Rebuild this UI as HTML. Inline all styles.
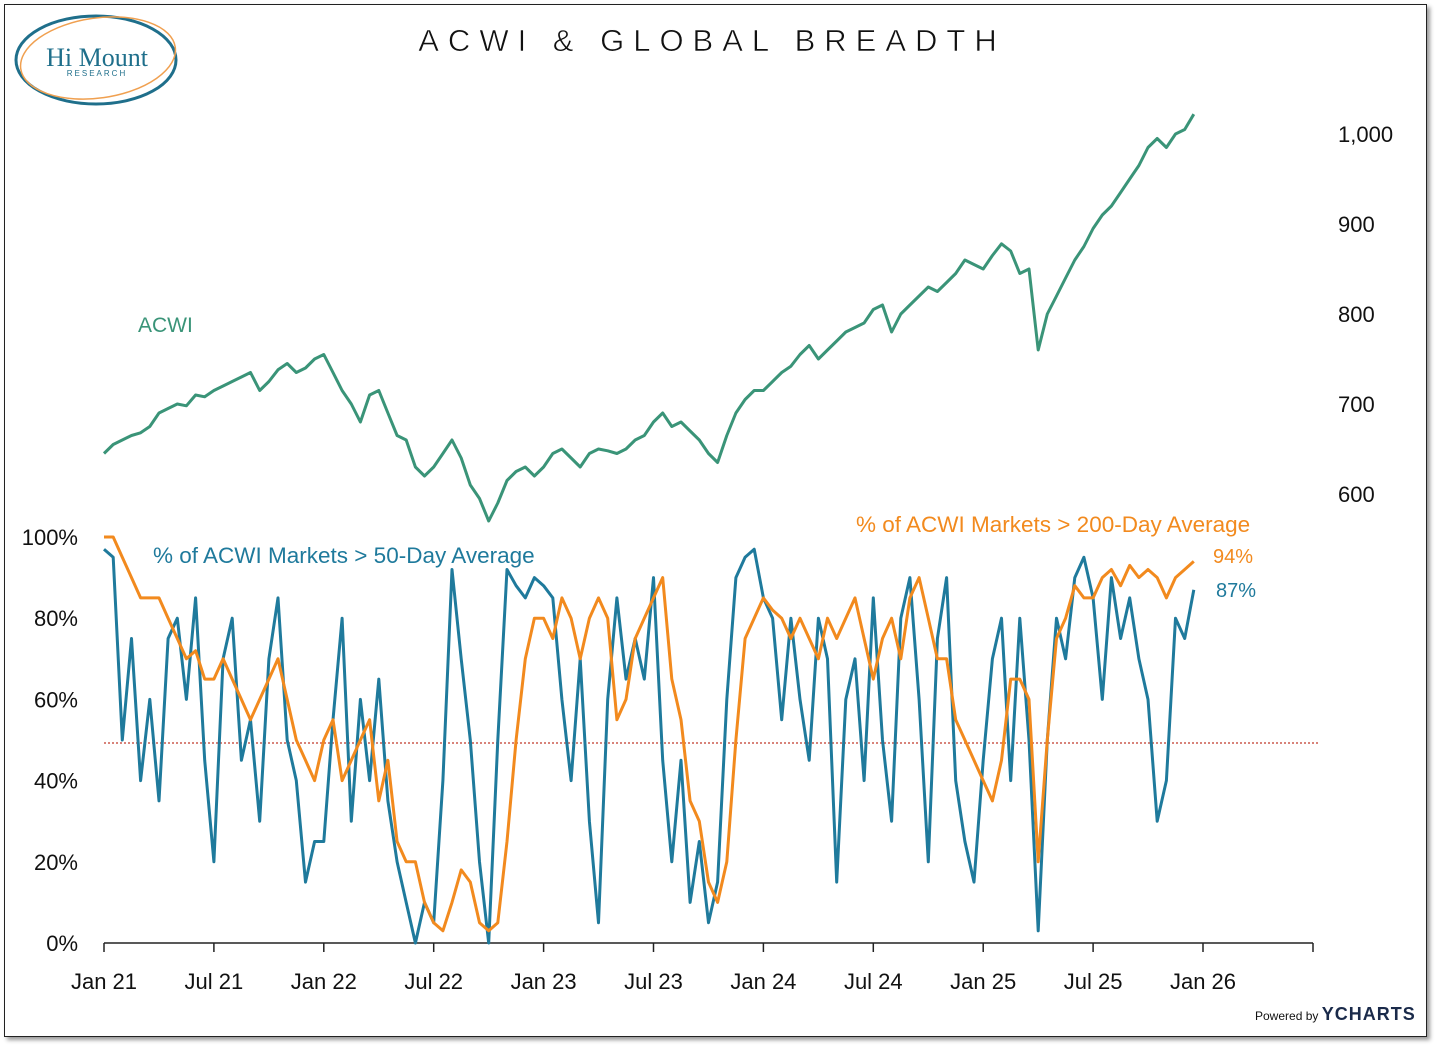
<!DOCTYPE html>
<html><head><meta charset="utf-8"><style>
body{margin:0;background:#fff;width:1439px;height:1050px;overflow:hidden;font-family:"Liberation Sans",sans-serif}
#frame{position:absolute;left:4px;top:4px;width:1421px;height:1031px;border:1.5px solid #222;box-shadow:3px 3px 4px #999;background:#fff}
</style></head><body>
<div id="frame"></div>
<svg id="chart" width="1439" height="1050" style="position:absolute;left:0;top:0">
<g>
<ellipse cx="96" cy="60" rx="80" ry="44" fill="none" stroke="#1f6f8b" stroke-width="3"/>
<ellipse cx="98" cy="58" rx="78" ry="40" fill="none" stroke="#f0a050" stroke-width="1.5" transform="rotate(-8 98 58)"/>
<text x="97" y="66" text-anchor="middle" font-family="Liberation Serif" font-size="26" fill="#1f6f8b">Hi Mount</text>
<text x="97" y="76" text-anchor="middle" font-size="8" letter-spacing="2" fill="#1f6f8b">RESEARCH</text>
</g>
<text x="712" y="51" text-anchor="middle" font-size="31" letter-spacing="9" fill="#111" stroke="#fff" stroke-width="0.6">ACWI &amp; GLOBAL BREADTH</text>
<g id="axes"></g>
<line x1="104" y1="743" x2="1318" y2="743" stroke="#c0392b" stroke-width="1.3" stroke-dasharray="2,2"/>
<g id="series"></g>
<text x="138" y="332" font-size="21" fill="#3a9478">ACWI</text>
<text x="153" y="563" font-size="22.5" fill="#1f7a9c">% of ACWI Markets &gt; 50-Day Average</text>
<text x="856" y="532" font-size="22.5" fill="#f28a1e">% of ACWI Markets &gt; 200-Day Average</text>
<text x="1213" y="563" font-size="20" fill="#f28a1e">94%</text>
<text x="1216" y="597" font-size="20" fill="#1f7a9c">87%</text>
<text x="1255" y="1020" font-size="12" fill="#111">Powered by <tspan font-size="18" font-weight="bold" fill="#1a2a4a" letter-spacing="1">YCHARTS</tspan></text>
</svg>
<script>
const xTicks=["Jan 21","Jul 21","Jan 22","Jul 22","Jan 23","Jul 23","Jan 24","Jul 24","Jan 25","Jul 25","Jan 26"];
const acwiTicks=[600,700,800,900,1000];
const pctTicks=[0,20,40,60,80,100];
const acwi=[645,655,660,665,668,675,690,695,700,698,710,708,715,720,725,730,735,715,725,738,745,735,740,750,
755,735,715,700,680,710,715,690,665,660,630,620,630,645,660,640,610,595,570,590,615,625,630,620,
630,645,650,640,630,645,650,648,645,650,660,665,680,690,675,680,670,660,645,635,665,690,705,715,
715,725,735,742,755,765,750,760,770,780,785,790,805,810,780,800,810,820,830,825,835,845,860,855,
850,865,878,870,845,850,760,800,820,840,860,875,895,910,920,935,950,965,985,995,985,1000,1005,1022];
const above50=[97,95,50,75,40,60,35,75,80,60,85,45,20,70,80,45,55,30,70,85,50,40,15,25,
25,55,80,30,60,40,65,35,20,10,0,10,5,40,92,70,50,20,0,50,92,88,85,90,
88,85,60,40,70,30,5,60,85,65,75,65,90,45,20,45,10,25,5,15,60,90,95,97,
85,80,55,80,60,45,80,70,15,60,70,40,85,50,30,80,90,60,20,75,90,40,25,15,
45,70,80,40,80,50,3,50,80,70,90,95,85,60,90,75,85,70,60,30,40,80,75,87];
const above200=[100,100,95,90,85,85,85,80,75,70,72,65,65,70,65,60,55,60,65,70,60,50,45,40,
50,55,40,45,50,55,35,45,25,20,20,10,5,3,10,18,15,5,3,5,25,50,70,80,
80,75,85,80,70,80,85,80,55,60,75,80,85,90,65,55,35,30,15,10,20,50,75,80,
85,82,80,75,80,75,70,80,75,80,85,75,65,75,80,70,85,90,80,70,70,55,50,45,
40,35,45,65,65,60,20,50,75,80,88,85,85,90,92,88,93,90,92,90,85,90,92,94];
const NS="http://www.w3.org/2000/svg";
const xScale=i=>104+i*219.8/24;
const tickX=k=>104+k*109.9;
const yA=v=>134+(1000-v)*0.9;
const yP=p=>943-p*4.06;
const axes=document.getElementById('axes'),ser=document.getElementById('series');
function mk(tag,attrs,parent){const e=document.createElementNS(NS,tag);for(const k in attrs)e.setAttribute(k,attrs[k]);parent.appendChild(e);return e;}
const ax=mk('line',{x1:104,y1:943,x2:1313,y2:943,stroke:'#222','stroke-width':1.5},axes);


xTicks.forEach((t,k)=>{
 const l=mk('line',{x1:tickX(k),y1:943,x2:tickX(k),y2:952,stroke:'#222','stroke-width':1.5},axes);
 
 
 const tx=mk('text',{x:tickX(k),y:989,'text-anchor':'middle','font-size':22,fill:'#111'},axes);tx.textContent=t;
 
 
});
const l2=mk('line',{x1:1313,y1:943,x2:1313,y2:952,stroke:'#222','stroke-width':1.5},axes);


acwiTicks.forEach(v=>{const t=mk('text',{x:1338,y:yA(v)+8,'font-size':22,fill:'#111'},axes);t.textContent=v.toLocaleString('en-US');
 
 });
pctTicks.forEach(p=>{const t=mk('text',{x:78,y:yP(p)+8,'text-anchor':'end','font-size':22,fill:'#111'},axes);t.textContent=p+'%';
 
 });
function line(arr,yf,color,name){
 const d=arr.map((v,i)=>(i?'L':'M')+xScale(i).toFixed(1)+','+yf(v).toFixed(1)).join('');
 const p=mk('path',{d:d,fill:'none',stroke:color,'stroke-width':3,'stroke-linejoin':'round'},ser);
 
 
}
line(above50,yP,'#1f7a9c','line-50day');
line(above200,yP,'#f28a1e','line-200day');
line(acwi,yA,'#3a9478','line-acwi');
</script>
</body></html>
